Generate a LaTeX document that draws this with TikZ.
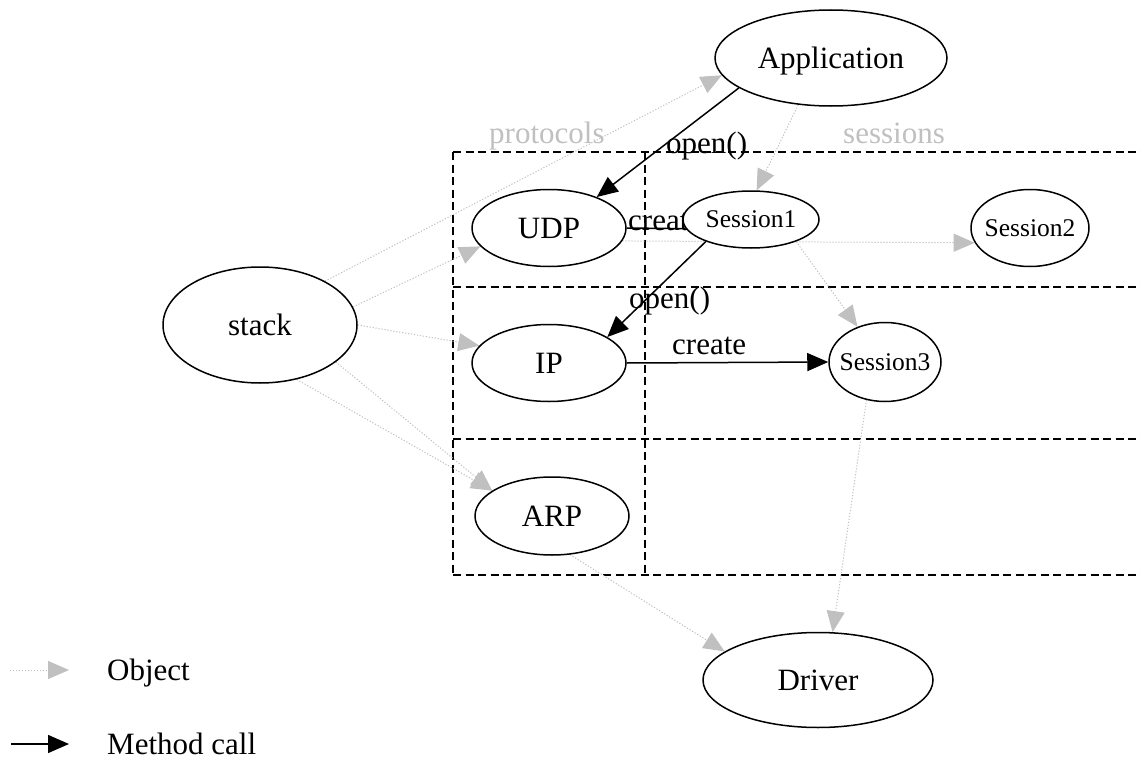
\documentclass[tikz,border=0pt]{standalone}
\usepackage{fontspec}
\setmainfont{Liberation Serif}
\usetikzlibrary{shapes.geometric,arrows.meta}
\pgfdeclarelayer{bg}
\pgfsetlayers{bg,main}
\definecolor{objgray}{RGB}{192,192,192}
\newcommand{\ctext}[1]{\raisebox{-0.33em}[0pt][0pt]{\makebox[0pt]{#1}}}
\begin{document}
\begin{tikzpicture}[x=1pt,y=-1pt,
  obj/.style={ellipse, draw, line width=1.5pt, fill=white, inner sep=0pt, font=\fontsize{31}{36}\selectfont},
  sess/.style={obj, font=\fontsize{25.5}{30}\selectfont},
  objedge/.style={objgray, line width=1pt, dash pattern=on 1.2pt off 1.8pt, -{Triangle[length=21pt,width=18pt]}},
  calledge/.style={black, line width=1.5pt, -{Triangle[length=21pt,width=18pt]}},
  plainedge/.style={black, line width=1.5pt},
  region/.style={line width=1.5pt, dash pattern=on 8pt off 4.5pt},
  lbl/.style={inner sep=0pt, anchor=base west, font=\fontsize{31}{36}\selectfont},
  glbl/.style={lbl, text=objgray}]
\useasboundingbox (0,0) rectangle (1141,760);

% label partly hidden under Session1
\node[lbl] (crt1) at (628,230) {create};

% nodes
\node[obj, minimum width=232pt, minimum height=96pt] (app) at (831,58) {\ctext{Application}};
\node[obj, minimum width=194pt, minimum height=116pt] (stack) at (260,325) {\ctext{stack}};
\node[obj, minimum width=154pt, minimum height=77pt] (udp) at (549,228) {\ctext{UDP}};
\node[sess, minimum width=136pt, minimum height=57pt] (s1) at (751,219.5) {\ctext{Session1}};
\node[sess, minimum width=118pt, minimum height=77pt] (s2) at (1030,228) {\ctext{Session2}};
\node[obj, minimum width=154pt, minimum height=77pt] (ip) at (549,363) {\ctext{IP}};
\node[sess, minimum width=112pt, minimum height=79pt] (s3) at (885,362) {\ctext{Session3}};
\node[obj, minimum width=154pt, minimum height=78pt] (arp) at (552,516) {\ctext{ARP}};
\node[obj, minimum width=230pt, minimum height=95pt] (drv) at (818,680) {\ctext{Driver}};

% labels
\node[lbl] (open1) at (666,153) {open()};
\node[lbl] (open2) at (629,308) {open()};
\node[lbl] (crt2) at (672,354) {create};
\node[glbl] (prot) at (489,143) {protocols};
\node[glbl] (sessl) at (843,143) {sessions};

% legend
\node[lbl] (lobj) at (107,680) {Object};
\node[lbl] (lcall) at (107,754) {Method call};
\coordinate (o1) at (10,670);
\coordinate (o2) at (69,670);
\coordinate (c1) at (11,744);
\coordinate (c2) at (69,744);

\begin{pgfonlayer}{bg}
% regions
\draw[region] (453,152) -- (1141,152);
\draw[region] (453,287) -- (1141,287);
\draw[region] (453,439) -- (1141,439);
\draw[region] (453,575) -- (1141,575);
\draw[region] (453,152) -- (453,575);
\draw[region] (645,152) -- (645,575);

% object edges
\draw[objedge] (stack.34) -- (app.189);
\draw[objedge] (stack.11) -- (udp.195);
\draw[objedge] (stack.0) -- (ip.166);
\draw[objedge] (stack.-26) -- (arp.157);
\draw[objedge] (stack.-56) -- (arp.157);
\draw[objedge] (app.235) -- (s1.79);
\draw[objedge] (udp.-10) -- (s2.195);
\draw[objedge] (s1.-26) -- (s3.128);
\draw[objedge] (s3.244) -- (drv.73);
\draw[objedge] (arp.295) -- (drv.163);

% method calls
\draw[calledge] (app.198) -- (udp.33);
\draw[plainedge] (udp.east) -- (s1.188);
\draw[calledge] (s1.206) -- (ip.24);
\draw[calledge] (ip.east) -- (s3.west);

% legend arrows
\draw[objedge] (o1) -- (o2);
\draw[calledge] (c1) -- (c2);
\end{pgfonlayer}
\end{tikzpicture}
\end{document}
